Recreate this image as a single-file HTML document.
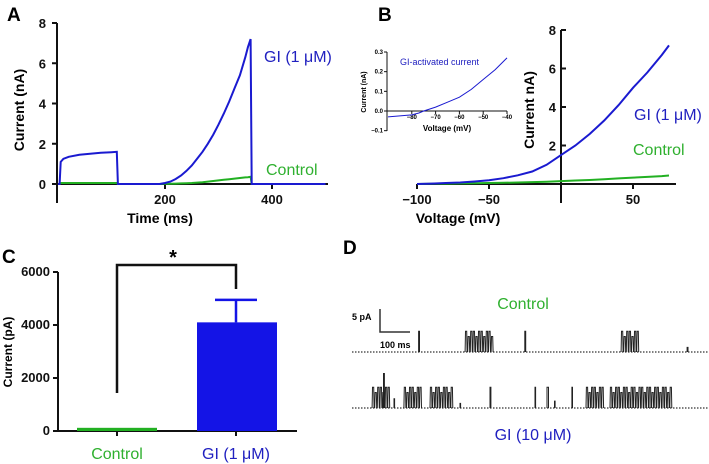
<!DOCTYPE html>
<html><head><meta charset="utf-8">
<style>
html,body{margin:0;padding:0;background:#fff;}
svg{display:block;font-family:"Liberation Sans",Arial,sans-serif;}
.tk{font-size:13px;font-weight:bold;fill:#111;}
.ax{stroke:#111;stroke-width:2;fill:none;}
</style></head>
<body>
<svg id="fig" width="709" height="464" viewBox="0 0 709 464" xmlns="http://www.w3.org/2000/svg">
<text x="7" y="21" font-size="19" font-weight="bold">A</text>
<text x="378" y="21" font-size="19" font-weight="bold">B</text>
<text x="2" y="263" font-size="19" font-weight="bold">C</text>
<text x="343" y="254" font-size="19" font-weight="bold">D</text>
<g id="gA"></g>
<g id="gB"></g>
<g id="gI"></g>
<g id="gC"></g>
<g id="gD"></g>
</svg>
<script>
// ---- Panel A data ----
const aTime = [0,3,5,10,20,40,60,80,100,110,112,150,190,200,210,220,230,240,250,260,270,280,290,300,310,320,330,340,350,355,360,362,400,500];
const aGI   = [0,0,1.1,1.25,1.35,1.45,1.5,1.55,1.58,1.6,0,0,0,0.05,0.12,0.25,0.42,0.65,0.92,1.25,1.6,2.0,2.45,2.95,3.5,4.1,4.75,5.4,6.3,6.8,7.2,0,0,0];
const aCtrl = [0,0,0.05,0.05,0.05,0.05,0.05,0.05,0.05,0.05,0,0,0,0.01,0.015,0.02,0.03,0.04,0.05,0.07,0.09,0.12,0.15,0.18,0.21,0.24,0.27,0.3,0.33,0.34,0.36,0,0,0];
const aYTicks = [0,2,4,6,8];
const aXTicks = [200,400];
// ---- Panel B data ----
const bV    = [-100,-90,-80,-70,-60,-50,-40,-30,-20,-10,0,10,20,30,40,50,60,70,75];
const bGI   = [0,0.02,0.05,0.08,0.13,0.2,0.3,0.45,0.65,1.0,1.5,2.0,2.6,3.3,4.1,5.0,5.8,6.7,7.2];
const bCtrl = [0,0.01,0.02,0.03,0.04,0.05,0.06,0.08,0.1,0.12,0.15,0.18,0.21,0.25,0.29,0.33,0.37,0.41,0.44];
const bYTicks = [2,4,6,8];
const bXTicks = [-100,-50,50];
// ---- Inset data ----
const iV = [-90,-85,-80,-77,-75,-70,-65,-60,-55,-50,-45,-40];
const iI = [-0.03,-0.025,-0.02,-0.01,0,0.02,0.045,0.07,0.11,0.16,0.21,0.27];
const iYTicks = [-0.1,0.0,0.1,0.2,0.3];
const iXTicks = [-80,-70,-60,-50,-40];
// ---- Panel C data ----
const cCats = ["Control","GI (1 \u03bcM)"];
const cVals = [120,4100];
const cErr  = [0,850];
const cYTicks = [0,2000,4000,6000];
// ---- Panel D data (events: start ms, end ms, amplitude pA) ----
const dCtrl = [[222,225,4.5],[377,470,4.5],[576,579,4.5],[897,950,4.5],[1117,1120,1]];
const dGI   = [[67,120,4.5],[105,108,7.5],[140,142,2],[173,233,4.5],[260,333,4.5],[360,362,1],[460,463,4.5],[610,612,4.5],[650,655,4.5],[675,677,1.5],[733,735,4.5],[780,833,4.5],[860,1060,4.5]];

const NS="http://www.w3.org/2000/svg";
function mk(g,tag,attrs){const e=document.createElementNS(NS,tag);for(const k in attrs)e.setAttribute(k,attrs[k]);g.appendChild(e);return e;}
function txt(g,x,y,s,attrs){const e=mk(g,'text',Object.assign({x:x,y:y},attrs));e.textContent=s;return e;}
function lin(d,r){return v=>r[0]+(v-d[0])/(d[1]-d[0])*(r[1]-r[0]);}
function path(xs,ys,fx,fy){return xs.map((v,i)=>(i?'L':'M')+fx(v).toFixed(1)+','+fy(ys[i]).toFixed(1)).join('');}

// Panel A
(function(){
const g=document.getElementById('gA');
const x=lin([0,400],[58,272]), y=lin([0,8],[184,23]);
let e=mk(g,'path',{d:'M57,23V203M57,184H328',class:'ax'});

aYTicks.forEach(v=>{mk(g,'line',{x1:52,x2:57,y1:y(v),y2:y(v),stroke:'#111','stroke-width':2});
 e=txt(g,46,y(v)+5,v,{class:'tk','text-anchor':'end'});});
aXTicks.forEach(v=>{mk(g,'line',{x1:x(v),x2:x(v),y1:184,y2:189,stroke:'#111','stroke-width':2});
 e=txt(g,x(v),204,v,{class:'tk','text-anchor':'middle'});});
e=txt(g,160,223,'Time (ms)',{'font-size':14,'font-weight':'bold','text-anchor':'middle'});
e=txt(g,0,0,'Current (nA)',{'font-size':14,'font-weight':'bold','text-anchor':'middle',transform:'translate(24,110) rotate(-90)'});
e=mk(g,'path',{d:path(aTime,aCtrl,x,y),stroke:'#22b022','stroke-width':2,fill:'none'});
e=mk(g,'path',{d:path(aTime,aGI,x,y),stroke:'#1a1ad0','stroke-width':2,fill:'none'});
e=txt(g,264,62,'GI (1 \u03bcM)',{'font-size':16,fill:'#2020c0'});
e=txt(g,266,175,'Control',{'font-size':16,fill:'#2fb02f'});
})();

// Panel B
(function(){
const g=document.getElementById('gB');
const x=lin([-100,50],[417,633]), y=lin([0,8],[184,30]);
let e=mk(g,'path',{d:'M561,30V203M417,184H676',class:'ax'});
bYTicks.forEach(v=>{mk(g,'line',{x1:561,x2:566,y1:y(v),y2:y(v),stroke:'#111','stroke-width':2});
 e=txt(g,556,y(v)+5,v,{class:'tk','text-anchor':'end'});});
bXTicks.forEach(v=>{mk(g,'line',{x1:x(v),x2:x(v),y1:184,y2:189,stroke:'#111','stroke-width':2});
 e=txt(g,x(v),204,v===-100?'\u2212100':v===-50?'\u221250':v,{class:'tk','text-anchor':'middle'});});
e=txt(g,458,223,'Voltage (mV)',{'font-size':14,'font-weight':'bold','text-anchor':'middle'});
e=txt(g,0,0,'Current nA)',{'font-size':14,'font-weight':'bold','text-anchor':'middle',transform:'translate(534,110) rotate(-90)'});
e=mk(g,'path',{d:path(bV,bCtrl,x,y),stroke:'#22b022','stroke-width':2,fill:'none'});
e=mk(g,'path',{d:path(bV,bGI,x,y),stroke:'#1a1ad0','stroke-width':2,fill:'none'});
e=txt(g,634,120,'GI (1 \u03bcM)',{'font-size':16,fill:'#2020c0'});
e=txt(g,633,155,'Control',{'font-size':16,fill:'#2fb02f'});
})();

// Inset
(function(){
const g=document.getElementById('gI');
const x=lin([-90,-40],[388,507]), y=lin([0,0.3],[111,52]);
let e=mk(g,'path',{d:'M387,52V131M387,111H507',stroke:'#111','stroke-width':1,fill:'none'});
iYTicks.forEach(v=>{mk(g,'line',{x1:384,x2:387,y1:y(v),y2:y(v),stroke:'#111'});
 e=txt(g,383,y(v)+2,v.toFixed(1).replace('-','\u2212'),{'font-size':6,'font-weight':'bold','text-anchor':'end'});});
iXTicks.forEach(v=>{mk(g,'line',{x1:x(v),x2:x(v),y1:111,y2:114,stroke:'#111'});
 e=txt(g,x(v),119,String(v).replace('-','\u2212'),{'font-size':6,'font-weight':'bold','text-anchor':'middle'});});
e=txt(g,447,131,'Voltage (mV)',{'font-size':8,'font-weight':'bold','text-anchor':'middle'});
e=txt(g,0,0,'Current (nA)',{'font-size':7,'font-weight':'bold','text-anchor':'middle',transform:'translate(366,92) rotate(-90)'});
e=mk(g,'path',{d:path(iV,iI,x,y),stroke:'#1a1ad0','stroke-width':1,fill:'none'});
e=txt(g,400,65,'GI-activated current',{'font-size':9,fill:'#2020c0'});
})();

// Panel C
(function(){
const g=document.getElementById('gC');
const y=lin([0,6000],[431,272]);const cx=[117,236];const bw=80;const cols=['#22b022','#1414e6'];const tcols=['#2fb02f','#2020c0'];
let e=mk(g,'path',{d:'M58,272V431M58,431H297',class:'ax'});
cYTicks.forEach(v=>{mk(g,'line',{x1:53,x2:58,y1:y(v),y2:y(v),stroke:'#111','stroke-width':2});
 e=txt(g,50,y(v)+4,v,{class:'tk','text-anchor':'end','font-size':12});});
e=txt(g,0,0,'Current (pA)',{'font-size':12,'font-weight':'bold','text-anchor':'middle',transform:'translate(12,352) rotate(-90)'});
cCats.forEach((c,i)=>{
 if(cErr[i]>0){e=mk(g,'path',{d:`M${cx[i]},${y(cVals[i])}V${y(cVals[i]+cErr[i])}M${cx[i]-21},${y(cVals[i]+cErr[i])}H${cx[i]+21}`,stroke:cols[i],'stroke-width':2.5,fill:'none'});}
 e=mk(g,'rect',{x:cx[i]-bw/2+ (i?1:0),y:y(cVals[i]),width:bw,height:431-y(cVals[i]),fill:cols[i]});
 mk(g,'line',{x1:cx[i],x2:cx[i],y1:431,y2:436,stroke:'#111','stroke-width':2});
 e=txt(g,cx[i],459,c,{'font-size':16,fill:tcols[i],'text-anchor':'middle'});
});
e=mk(g,'path',{d:'M117,393V265H236V289',stroke:'#111','stroke-width':2.5,fill:'none'});
e=txt(g,173,264,'*',{'font-size':20,'font-weight':'bold','text-anchor':'middle'});
})();

// Panel D
(function(){
const g=document.getElementById('gD');
const x=lin([0,100],[352,382]);const pa=23/5;
function trace(ev,base,name){
 let e=mk(g,'line',{x1:352,x2:708,y1:base,y2:base,stroke:'#333','stroke-width':1.2,'stroke-dasharray':'1.5,1.5'});
 let d='';
 ev.forEach(([s,t,a])=>{
  const x0=x(s),x1=x(t),h=a*pa;
  if(x1-x0<3){d+=`M${x0},${base}L${x0},${base-h}L${x1},${base-h}L${x1},${base}`;}
  else{let k=0;for(let xx=x0;xx<x1;xx+=2.6,k++){const hh=h*(k%3===1?0.75:1);d+=`M${xx.toFixed(1)},${base}L${(xx+0.4).toFixed(1)},${(base-hh).toFixed(1)}L${(xx+1.6).toFixed(1)},${(base-hh).toFixed(1)}L${(xx+2).toFixed(1)},${base}`;}}
 });
 e=mk(g,'path',{d:d,stroke:'#222','stroke-width':1,fill:'none'});
}
trace(dCtrl,352,'control-trace');
trace(dGI,408,'gi-trace');
let e=mk(g,'path',{d:'M380,309V332H410',stroke:'#333','stroke-width':1.5,fill:'none'});
e=txt(g,352,320,'5 pA',{'font-size':9,'font-weight':'bold'});
e=txt(g,380,348,'100 ms',{'font-size':9,'font-weight':'bold'});
e=txt(g,523,309,'Control',{'font-size':16,fill:'#2fb02f','text-anchor':'middle'});
e=txt(g,533,440,'GI (10 \u03bcM)',{'font-size':16,fill:'#2020c0','text-anchor':'middle'});
})();
</script>
</body></html>
